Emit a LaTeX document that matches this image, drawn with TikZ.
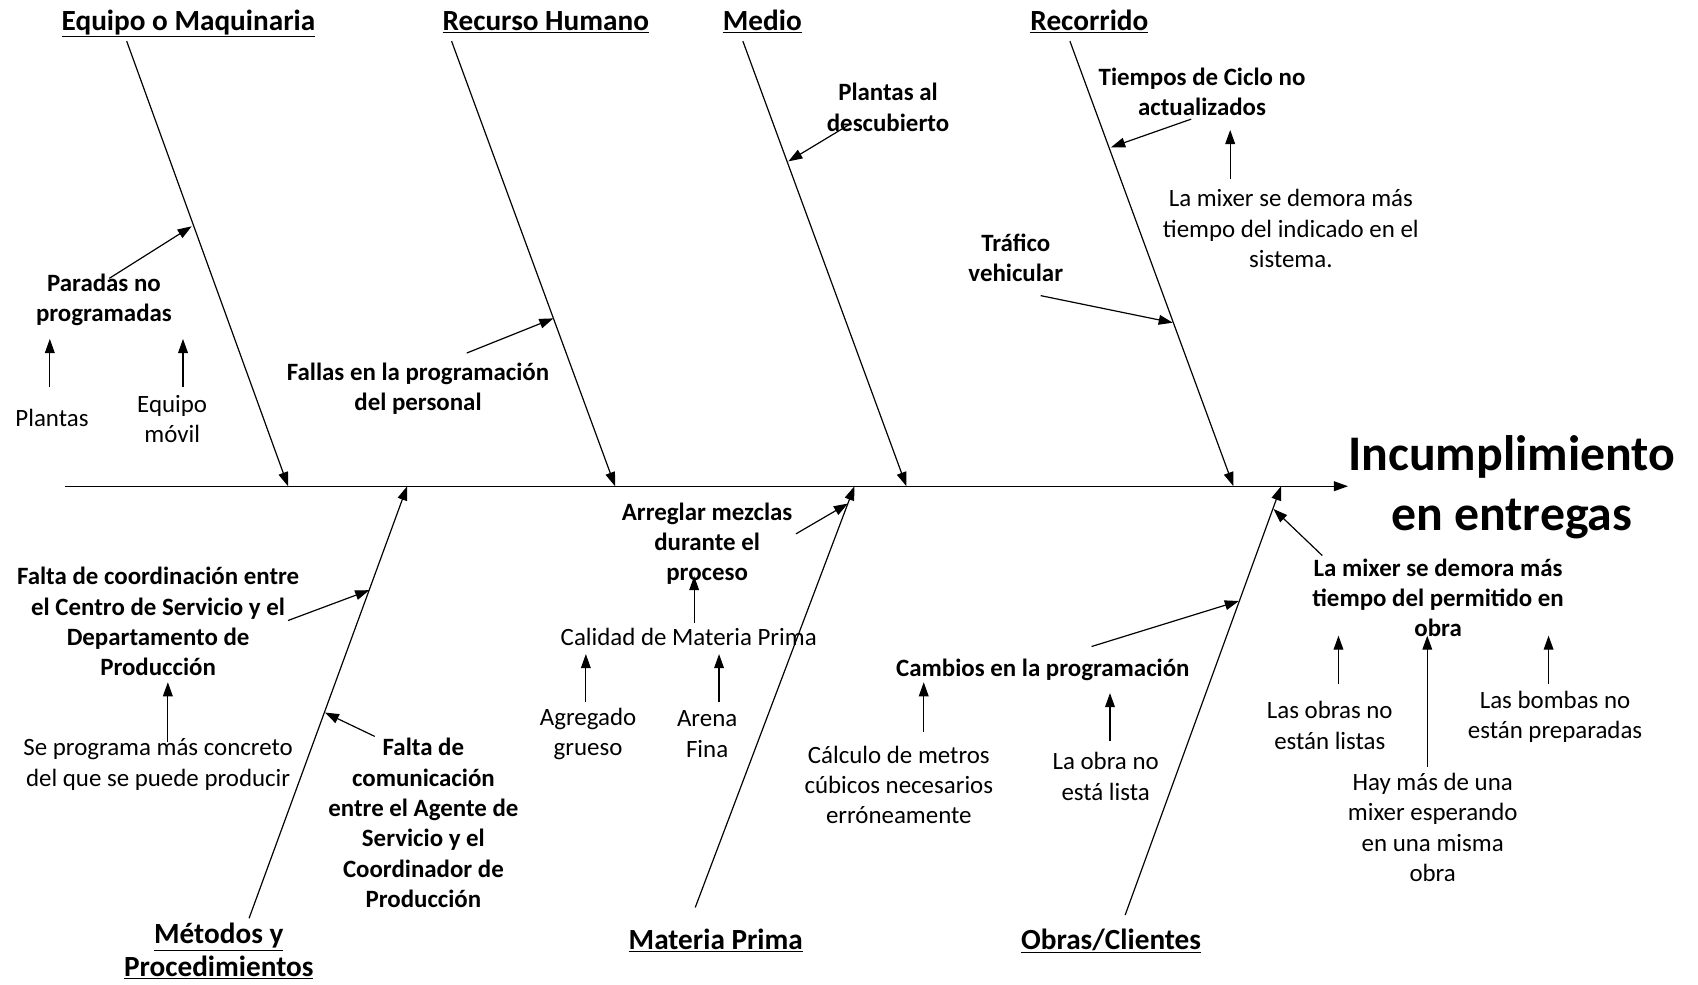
\documentclass[tikz,border=0pt]{standalone}
\usepackage{fontspec}
\setmainfont{Carlito}
\usetikzlibrary{arrows.meta}
\begin{document}
\begin{tikzpicture}[x=1pt,y=-1pt,
  arr/.style={line width=1.1pt,-{Triangle[length=13pt,width=9pt]}},
  txt/.style={align=center,inner sep=0pt,font=\fontsize{23}{28}\selectfont},
  btxt/.style={align=center,inner sep=0pt,font=\fontsize{23}{28}\selectfont\bfseries},
  cat/.style={align=center,inner sep=0pt,font=\fontsize{27}{30}\selectfont\bfseries},
  effect/.style={align=center,inner sep=0pt,font=\fontsize{46}{56}\selectfont\bfseries}]
\useasboundingbox (0,0) rectangle (1568,909);
\fill[white] (0,0) rectangle (1568,909);

% effect and spine
\node[effect] (eff) at (1396,450) {Incumplimiento\\en entregas};
\coordinate (s0) at (60,449);
\draw[arr] (s0) -- (s0 -| eff.west);

% category labels
\node[cat,anchor=base] (c1) at (174,28) {\underline{Equipo o Maquinaria}};
\node[cat,anchor=base] (c2) at (504,28) {\underline{Recurso Humano}};
\node[cat,anchor=base] (c3) at (704,28) {\underline{Medio}};
\node[cat,anchor=base] (c4) at (1006,28) {\underline{Recorrido}};
\node[cat] (c5) at (202,878) {\underline{Métodos y}\\\underline{Procedimientos}};
\node[cat,anchor=base] (c6) at (661,877) {\underline{Materia Prima}};
\node[cat,anchor=base] (c7) at (1026,877) {\underline{Obras/Clientes}};

% bones
\coordinate (b1a) at (117,38);  \coordinate (b1b) at (266,449);
\coordinate (b2a) at (417,38);  \coordinate (b2b) at (568,449);
\coordinate (b3a) at (686,38);  \coordinate (b3b) at (837,449);
\coordinate (b4a) at (988,38);  \coordinate (b4b) at (1139,449);
\coordinate (b5a) at (230,848); \coordinate (b5b) at (376,449);
\coordinate (b6a) at (642,838); \coordinate (b6b) at (789,449);
\coordinate (b7a) at (1039,845); \coordinate (b7b) at (1183,449);
\foreach \i in {1,...,7} \draw[arr] (b\i a) -- (b\i b);

% Equipo o Maquinaria
\node[btxt] (t1) at (96,277) {Paradas no\\programadas};
\coordinate (t1s) at (101,257); \coordinate (t1e) at (177,209);
\draw[arr] (t1s) -- (t1e);
\node[txt] (t1a) at (48,386) {Plantas};
\coordinate (t1as) at (46,357); \coordinate (t1ae) at (46,313);
\draw[arr] (t1as) -- (t1ae);
\node[txt] (t1b) at (159,387) {Equipo\\móvil};
\coordinate (t1bs) at (169,357); \coordinate (t1be) at (169,313);
\draw[arr] (t1bs) -- (t1be);

% Recurso Humano
\node[btxt] (t2) at (386,359) {Fallas en la programación\\del personal};
\coordinate (t2s) at (431,326); \coordinate (t2e) at (511,294);
\draw[arr] (t2s) -- (t2e);

% Medio
\node[btxt] (t3) at (820,99) {Plantas al\\descubierto};
\coordinate (t3s) at (786,114); \coordinate (t3e) at (728,149);
\draw[arr] (t3s) -- (t3e);

% Recorrido
\node[btxt] (t4) at (1110,85) {Tiempos de Ciclo no\\actualizados};
\coordinate (t4s) at (1100,110); \coordinate (t4e) at (1026,136);
\draw[arr] (t4s) -- (t4e);
\node[txt] (t4a) at (1192,211) {La mixer se demora más\\tiempo del indicado en el\\sistema.};
\coordinate (t4as) at (1136,165); \coordinate (t4ae) at (1136,120);
\draw[arr] (t4as) -- (t4ae);
\node[btxt] (t5) at (938,238) {Tráfico\\vehicular};
\coordinate (t5s) at (961,273); \coordinate (t5e) at (1083,298);
\draw[arr] (t5s) -- (t5e);

% Métodos y Procedimientos
\node[btxt] (m1) at (146,574) {Falta de coordinación entre\\el Centro de Servicio y el\\Departamento de\\Producción};
\coordinate (m1s) at (266,573); \coordinate (m1e) at (341,545);
\draw[arr] (m1s) -- (m1e);
\node[txt] (m1a) at (146,706) {Se programa más concreto\\del que se puede producir};
\coordinate (m1as) at (155,685); \coordinate (m1ae) at (155,630);
\draw[arr] (m1as) -- (m1ae);
\node[btxt] (m2) at (391,760) {Falta de\\comunicación\\entre el Agente de\\Servicio y el\\Coordinador de\\Producción};
\coordinate (m2s) at (346,680); \coordinate (m2e) at (300,658);
\draw[arr] (m2s) -- (m2e);

% Materia Prima
\node[btxt] (p1) at (653,502) {Arreglar mezclas\\durante el\\proceso};
\coordinate (p1s) at (735,493); \coordinate (p1e) at (783,465);
\draw[arr] (p1s) -- (p1e);
\node[txt] (p2) at (636,588) {Calidad de Materia Prima};
\coordinate (p2s) at (641,575); \coordinate (p2e) at (641,532);
\draw[arr] (p2s) -- (p2e);
\node[txt] (p3) at (543,678) {Agregado\\grueso};
\coordinate (p3s) at (541,648); \coordinate (p3e) at (541,604);
\draw[arr] (p3s) -- (p3e);
\node[txt] (p4) at (653,678) {Arena\\Fina};
\coordinate (p4s) at (664,648); \coordinate (p4e) at (664,604);
\draw[arr] (p4s) -- (p4e);

% Obras/Clientes
\node[btxt] (o1) at (963,619) {Cambios en la programación};
\coordinate (o1s) at (1008,597); \coordinate (o1e) at (1144,555);
\draw[arr] (o1s) -- (o1e);
\node[txt] (o1a) at (830,725) {Cálculo de metros\\cúbicos necesarios\\erróneamente};
\coordinate (o1as) at (853,676); \coordinate (o1ae) at (853,630);
\draw[arr] (o1as) -- (o1ae);
\node[txt] (o1b) at (1021,717) {La obra no\\está lista};
\coordinate (o1bs) at (1025,684); \coordinate (o1be) at (1025,640);
\draw[arr] (o1bs) -- (o1be);
\node[btxt] (o2) at (1328,552) {La mixer se demora más\\tiempo del permitido en\\obra};
\coordinate (o2s) at (1221,513); \coordinate (o2e) at (1176,470);
\draw[arr] (o2s) -- (o2e);
\node[txt] (o2a) at (1228,670) {Las obras no\\están listas};
\coordinate (o2as) at (1236,632); \coordinate (o2ae) at (1236,587);
\draw[arr] (o2as) -- (o2ae);
\node[txt] (o2b) at (1323,764) {Hay más de una\\mixer esperando\\en una misma\\obra};
\coordinate (o2bs) at (1318,708); \coordinate (o2be) at (1318,587);
\draw[arr] (o2bs) -- (o2be);
\node[txt] (o2c) at (1436,662) {Las bombas no\\están preparadas};
\coordinate (o2cs) at (1430,632); \coordinate (o2ce) at (1430,587);
\draw[arr] (o2cs) -- (o2ce);
\end{tikzpicture}
\end{document}
